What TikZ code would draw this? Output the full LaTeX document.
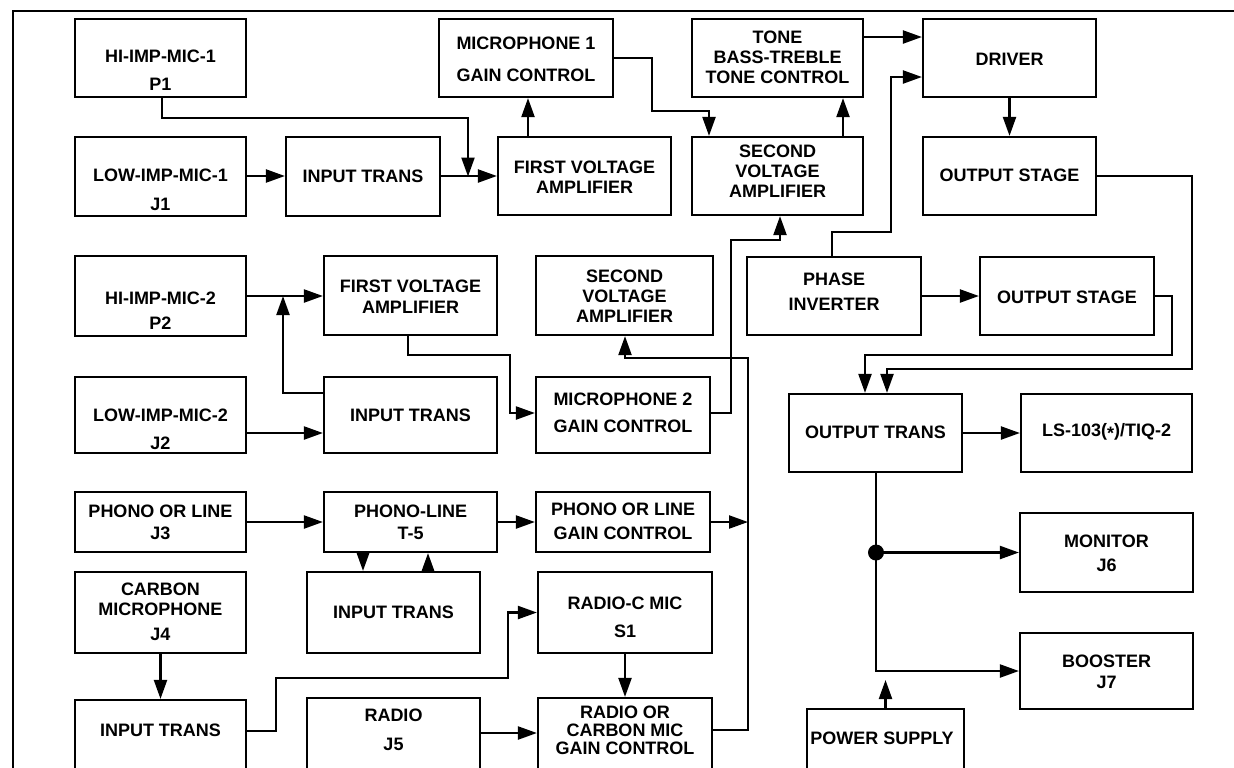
\documentclass[tikz,border=0pt]{standalone}
\usepackage{fontspec}
\setmainfont{Liberation Sans}
\usetikzlibrary{arrows.meta,fit}
\begin{document}
\begin{tikzpicture}[x=0.5pt,y=-0.5pt,
  box/.style={draw, line width=1.1pt, inner sep=0pt},
  txt/.style={align=center, inner sep=0pt, font=\fontsize{9}{10}\selectfont\bfseries},
  wire/.style={line width=1.1pt},
  arr/.style={line width=1.1pt, -{Triangle[length=9.5pt,width=6.5pt]}},
  dot/.style={circle, fill, inner sep=0pt, minimum size=8pt}]
\useasboundingbox (0,0) rectangle (1234,767);
\clip (0,0) rectangle (1234,767);
\fill[white] (0,0) rectangle (1234,767);
% frame
\draw[wire] (13,780) -- (13,11) -- (1240,11);

% boxes
\node[box, fit={(75,19) (246,97)}] (p1) {};
\node[box, fit={(75,137) (246,216)}] (j1) {};
\node[box, fit={(286,137) (440,216)}] (it1) {};
\node[box, fit={(498,137) (671,215)}] (fva1) {};
\node[box, fit={(439,19) (613,97)}] (mg1) {};
\node[box, fit={(692,137) (863,215)}] (sva1) {};
\node[box, fit={(692,19) (863,97)}] (tone) {};
\node[box, fit={(923,19) (1096,97)}] (drv) {};
\node[box, fit={(923,137) (1096,215)}] (os1) {};
\node[box, fit={(75,256) (246,336)}] (p2) {};
\node[box, fit={(75,377) (246,453)}] (j2) {};
\node[box, fit={(324,256) (497,335)}] (fva2) {};
\node[box, fit={(324,377) (497,453)}] (it2) {};
\node[box, fit={(536,256) (713,335)}] (sva2) {};
\node[box, fit={(536,377) (710,453)}] (mg2) {};
\node[box, fit={(747,257) (921,335)}] (phi) {};
\node[box, fit={(980,257) (1154,335)}] (os2) {};
\node[box, fit={(789,394) (962,472)}] (ot) {};
\node[box, fit={(1021,394) (1192,472)}] (ls) {};
\node[box, fit={(1020,513) (1193,592)}] (mon) {};
\node[box, fit={(1020,633) (1193,709)}] (boo) {};
\node[box, fit={(807,709) (964,790)}] (ps) {};
\node[box, fit={(75,492) (246,552)}] (j3) {};
\node[box, fit={(324,492) (497,552)}] (t5) {};
\node[box, fit={(536,492) (710,552)}] (plg) {};
\node[box, fit={(75,572) (246,653)}] (j4) {};
\node[box, fit={(307,572) (480,653)}] (it3) {};
\node[box, fit={(538,572) (712,653)}] (rcm) {};
\node[box, fit={(75,700) (246,790)}] (it4) {};
\node[box, fit={(307,698) (480,790)}] (j5) {};
\node[box, fit={(538,698) (712,790)}] (rcg) {};

% texts
\node[txt] (p1t) at (160.5,70) {HI-IMP-MIC-1\\[4pt]P1};
\node[txt] (j1t) at (160.5,190) {LOW-IMP-MIC-1\\[4.5pt]J1};
\node[txt] (it1t) at (363,176) {INPUT TRANS};
\node[txt] (fva1t) at (584.5,177) {FIRST VOLTAGE\\AMPLIFIER};
\node[txt] (mg1t) at (526,59) {MICROPHONE 1\\[6pt]GAIN CONTROL};
\node[txt] (sva1t) at (777.5,171) {SECOND\\VOLTAGE\\AMPLIFIER};
\node[txt] (tonet) at (777.5,57) {TONE\\BASS-TREBLE\\TONE CONTROL};
\node[txt] (drvt) at (1009.5,59) {DRIVER};
\node[txt] (os1t) at (1009.5,175) {OUTPUT STAGE};
\node[txt] (p2t) at (160.5,311) {HI-IMP-MIC-2\\[2.5pt]P2};
\node[txt] (j2t) at (160.5,429) {LOW-IMP-MIC-2\\[4pt]J2};
\node[txt] (fva2t) at (410.5,297) {FIRST VOLTAGE\\[0.5pt]AMPLIFIER};
\node[txt] (it2t) at (410.5,415) {INPUT TRANS};
\node[txt] (sva2t) at (624.5,296) {SECOND\\VOLTAGE\\AMPLIFIER};
\node[txt] (mg2t) at (623,413) {MICROPHONE 2\\[3.5pt]GAIN CONTROL};
\node[txt] (phit) at (834,292) {PHASE\\[2.5pt]INVERTER};
\node[txt] (os2t) at (1067,297) {OUTPUT STAGE};
\node[txt] (ott) at (875.5,432) {OUTPUT TRANS};
\node[txt] (lst) at (1106.5,432) {LS-103(\raisebox{-0.35ex}{*})/TIQ-2};
\node[txt] (mont) at (1106.5,553) {MONITOR\\[2pt]J6};
\node[txt] (boot) at (1106.5,672) {BOOSTER\\[0.5pt]J7};
\node[txt] (pst) at (882,738) {POWER SUPPLY};
\node[txt] (j3t) at (160.5,522) {PHONO OR LINE\\[1pt]J3};
\node[txt] (t5t) at (410.5,522) {PHONO-LINE\\[1pt]T-5};
\node[txt] (plgt) at (623,521) {PHONO OR LINE\\[2pt]GAIN CONTROL};
\node[txt] (j4t) at (160.5,612) {CARBON\\MICROPHONE\\[2.5pt]J4};
\node[txt] (it3t) at (393.5,612) {INPUT TRANS};
\node[txt] (rcmt) at (625,617) {RADIO-C MIC\\[4pt]S1};
\node[txt] (it4t) at (160.5,730) {INPUT TRANS};
\node[txt] (j5t) at (393.5,730) {RADIO\\[4.5pt]J5};
\node[txt] (rcgt) at (625,730) {RADIO OR\\[-1pt]CARBON MIC\\[-1pt]GAIN CONTROL};

% junction dot
\node[dot] (jn) at (876,552.5) {};

% connectors, row 1
\draw[arr] (162,0 |- p1.south) |- (468,118) -- (468,0 |- it1.east);
\draw[arr] (j1.east |- 0,176) -- (it1.west |- 0,176);
\draw[arr] (it1.east |- 0,176) -- (fva1.west |- 0,176);
\draw[arr] (528,0 |- fva1.north) -- (528,0 |- mg1.south);
\draw[arr] (mg1.east) -| (652,111) -| (709,0 |- sva1.north);
\draw[arr] (843,0 |- sva1.north) -- (843,0 |- tone.south);
\draw[arr] (tone.east |- 0,37) -- (drv.west |- 0,37);
\draw[arr] (832,0 |- phi.north) |- (891,232) |- (drv.west |- 0,77);
\draw[arr] (drv.south) -- (os1.north);
\draw[arr] (os1.east) -| (1192,369) -| (887,0 |- ot.north);

% row 2
\draw[arr] (p2.east) -- (fva2.west |- p2.east);
\draw[arr] (it2.west |- 0,393) -| (283,0 |- p2.east);
\draw[arr] (j2.east |- 0,433) -- (it2.west |- 0,433);
\draw[arr] (408,0 |- fva2.south) |- (510,355) |- (mg2.west |- 0,413);
\draw[arr] (mg2.east |- 0,413) -| (731,240) -| (780,0 |- sva1.south);
\draw[arr] (rcg.east |- 0,730) -| (748,358) -| (625,0 |- sva2.south);
\draw[arr] (plg.east) -- (748,0 |- plg.east);
\draw[arr] (j3.east) -- (t5.west);
\draw[arr] (t5.east) -- (plg.west);
\draw[arr] (363,0 |- t5.south) -- (363,0 |- it3.north);
\draw[arr] (428,0 |- it3.north) -- (428,0 |- t5.south);
\draw[arr] (j4.south) -- (it4.north);
\draw[arr] (it4.east |- 0,731) -| (276,678) -| (508,0 |- rcm.west) -- (rcm.west);
\draw[arr] (rcm.south) -- (rcg.north);
\draw[arr] (j5.east |- 0,733) -- (rcg.west |- 0,733);
\draw[arr] (phi.east) -- (os2.west);
\draw[arr] (os2.east) -| (1172,355) -| (865,0 |- ot.north);
\draw[arr] (ot.east) -- (ls.west);
\draw[wire] (876,0 |- ot.south) -- (jn.center);
\draw[arr] (jn.center) -- (mon.west);
\draw[arr] (jn.center) |- (boo.west);
\draw[arr] (ps.north) -- (ps.north |- 0,680);
\end{tikzpicture}
\end{document}
